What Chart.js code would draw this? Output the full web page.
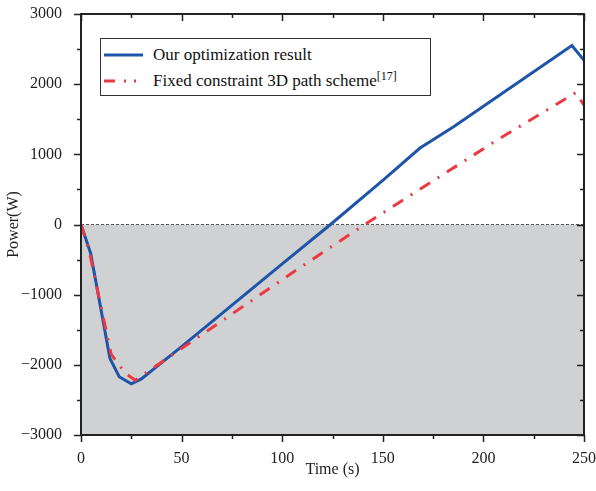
<!DOCTYPE html>
<html>
<head>
<meta charset="utf-8">
<script src="https://cdn.jsdelivr.net/npm/chart.js@4/dist/chart.umd.min.js"></script>
<style>
  body { margin: 0; background: #fff; }
  #wrap { position: relative; width: 596px; height: 491px; }
  #legend {
    position: absolute; left: 100px; top: 38px; width: 329px; height: 56px;
    border: 1px solid #333; background: #fff;
    font-family: "Liberation Serif", "Times New Roman", serif; font-size: 17px; color: #111;
  }
  .row { position: absolute; left: 0; height: 20px; display: flex; align-items: center; }
  .row svg { margin-left: 3px; margin-right: 10px; }
  sup { font-size: 12px; vertical-align: 6px; line-height: 0; }
</style>
</head>
<body>
<div id="wrap">
  <canvas id="powerChart" width="596" height="491"></canvas>
  <div id="legend">
    <div class="row" style="top:6px">
      <svg width="39" height="6"><line x1="0" y1="3" x2="39" y2="3" stroke="#1f55a8" stroke-width="3"/></svg>
      <span>Our optimization result</span>
    </div>
    <div class="row" style="top:32px">
      <svg width="39" height="6"><line x1="0" y1="3" x2="39" y2="3" stroke="#ec3a43" stroke-width="3" stroke-dasharray="11 9 2 8 2 100"/></svg>
      <span>Fixed constraint 3D path scheme<sup>[17]</sup></span>
    </div>
  </div>
</div>
<script>
// time (s) / power (W)
const ourTime  = [0, 4.8, 14.4, 19, 25, 30, 50, 100, 124, 150, 168.5, 185, 244, 250];
const ourPower = [0, -410, -1910, -2170, -2270, -2200, -1740, -560, 0, 630, 1090, 1390, 2550, 2340];

const fixedTime  = [0, 4, 15, 22, 27, 36, 107, 141, 207, 246, 250];
const fixedPower = [0, -370, -1850, -2120, -2220, -2040, -650, 0, 1207, 1880, 1700];

const zeroTime  = [0, 250];
const zeroPower = [0, 0];

const xMin = 0, xMax = 250, xStep = 25, xLabelStep = 50;
const yMin = -3000, yMax = 3000, yStep = 500, yLabelStep = 1000;

const toPoints = (xs, ys) => xs.map((x, i) => ({ x: x, y: ys[i] }));

const serif = "Liberation Serif";

// frame + ticks: left/bottom outward, top/right inward, short minor ticks
const frameTicks = {
  id: "frameTicks",
  afterDatasetsDraw(chart) {
    const ctx = chart.ctx;
    const a = chart.chartArea;
    const xs = chart.scales.x, ys = chart.scales.y;
    ctx.save();
    ctx.strokeStyle = "#222";
    ctx.lineWidth = 1.5;
    xs.ticks.forEach(t => {
      const px = Math.round(xs.getPixelForValue(t.value)) + 0.5;
      const len = t.value % xLabelStep === 0 ? 7 : 4;
      ctx.beginPath();
      ctx.moveTo(px, a.bottom); ctx.lineTo(px, a.bottom + len);
      ctx.moveTo(px, a.top); ctx.lineTo(px, a.top + len);
      ctx.stroke();
    });
    ys.ticks.forEach(t => {
      const py = Math.round(ys.getPixelForValue(t.value)) + 0.5;
      const len = t.value % yLabelStep === 0 ? 7 : 4;
      ctx.beginPath();
      ctx.moveTo(a.left, py); ctx.lineTo(a.left - len, py);
      ctx.moveTo(a.right, py); ctx.lineTo(a.right - len, py);
      ctx.stroke();
    });
    ctx.lineWidth = 2;
    ctx.strokeRect(a.left, a.top, a.right - a.left, a.bottom - a.top);
    ctx.restore();
  }
};

new Chart(document.getElementById("powerChart").getContext("2d"), {
  type: "line",
  data: {
    datasets: [
      {
        label: "Fixed constraint 3D path scheme",
        data: toPoints(fixedTime, fixedPower),
        borderColor: "#ec3a43",
        borderWidth: 3,
        borderDash: [12, 9, 2, 9],
        pointRadius: 0,
        fill: false,
        order: 0
      },
      {
        label: "Our optimization result",
        data: toPoints(ourTime, ourPower),
        borderColor: "#1f55a8",
        borderWidth: 3,
        pointRadius: 0,
        fill: false,
        order: 1
      },
      {
        label: "zero",
        data: toPoints(zeroTime, zeroPower),
        borderColor: "#555",
        borderWidth: 1,
        borderDash: [3, 2],
        backgroundColor: "rgb(208,209,211)",
        pointRadius: 0,
        fill: "start",
        order: 2
      }
    ]
  },
  options: {
    responsive: false,
    animation: false,
    devicePixelRatio: 1,
    layout: { padding: { top: 14, right: 12, left: 0, bottom: 0 } },
    plugins: { legend: { display: false }, tooltip: { enabled: false } },
    scales: {
      x: {
        type: "linear",
        min: xMin, max: xMax,
        grid: { display: false },
        border: { display: false },
        ticks: {
          stepSize: xStep,
          padding: 6,
          maxRotation: 0,
          autoSkip: false,
          color: "#222",
          font: { family: serif, size: 16 },
          callback: v => (v % xLabelStep === 0 ? String(v) : "")
        },
        title: {
          display: true, text: "Time (s)", color: "#222",
          font: { family: serif, size: 16 },
          padding: { top: 0, bottom: 12 }
        },
        afterFit: s => { s.height = 56; s.paddingLeft = 0; s.paddingRight = 0; }
      },
      y: {
        min: yMin, max: yMax,
        grid: { display: false },
        border: { display: false },
        ticks: {
          stepSize: yStep,
          padding: 11,
          autoSkip: false,
          color: "#222",
          font: { family: serif, size: 16 },
          callback: v => (v % yLabelStep === 0 ? String(v).replace("-", "\u2212") : "")
        },
        title: {
          display: true, text: "Power(W)", color: "#222",
          font: { family: serif, size: 16 },
          padding: { top: 4, bottom: 0 }
        },
        afterFit: s => { s.width = 81; s.paddingTop = 0; s.paddingBottom = 0; }
      }
    }
  },
  plugins: [frameTicks]
});
</script>
</body>
</html>
